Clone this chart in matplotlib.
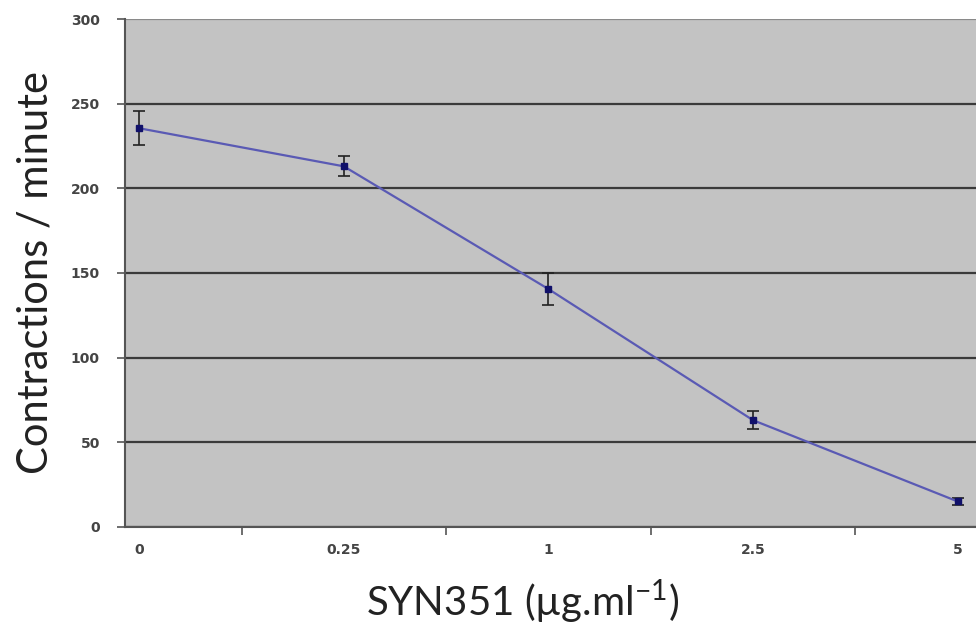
import numpy as np
import matplotlib.pyplot as plt
from matplotlib.ticker import FixedLocator

# data
doses = ["0", "0.25", "1", "2.5", "5"]
rate = [235.5, 213, 140.5, 63, 15]
rate_err = [10, 6, 9.5, 5.5, 2]

fig = plt.figure(figsize=(9.76, 6.37), dpi=100)
ax = fig.add_axes([0.128, 0.173, 0.872, 0.797])
ax.set_facecolor("#c3c3c3")

x = np.arange(len(doses))
ax.errorbar(x, rate, yerr=rate_err, color="#5a5ab4", lw=1.6,
            marker="s", ms=4, mfc="#10106a", mec="#10106a",
            ecolor="#222222", elinewidth=1.2, capsize=4, capthick=1.2, zorder=3)

ax.set_ylim(0, 300)
ax.set_xlim(-0.07, 4.09)
ax.set_yticks(np.arange(0, 301, 50))
ax.yaxis.grid(True, color="#3a3a3a", lw=1.6)
ax.set_axisbelow(True)
# top gridline is lighter in the original
ax.get_ygridlines()[-1].set_color("#8a8a8a")

# category labels without marks, tick marks between categories
ax.set_xticks(x)
ax.set_xticklabels(doses)
ax.tick_params(axis="x", which="major", length=0, pad=12)
ax.xaxis.set_minor_locator(FixedLocator(x[:-1] + 0.5))
ax.tick_params(axis="x", which="minor", length=6, width=1.2, color="#555555")
ax.tick_params(axis="y", length=6, width=1.2, color="#555555", pad=12)
for lab in ax.get_xticklabels() + ax.get_yticklabels():
    lab.set_fontsize(10)
    lab.set_color("#444444")
    lab.set_fontweight("bold")

for s in ["top", "right"]:
    ax.spines[s].set_visible(False)
for s in ["left", "bottom"]:
    ax.spines[s].set_color("#555555")
    ax.spines[s].set_linewidth(1.5)

ax.set_ylabel("Contractions / minute", fontsize=30, family="Lato", color="#222222", labelpad=12)
ax.set_xlabel(r"SYN351 (µg.ml$^{\mathregular{-1}}$)", fontsize=29, family="Lato", color="#222222")
ax.xaxis.set_label_coords(0.467, -0.1)

fig.savefig("out.png")
